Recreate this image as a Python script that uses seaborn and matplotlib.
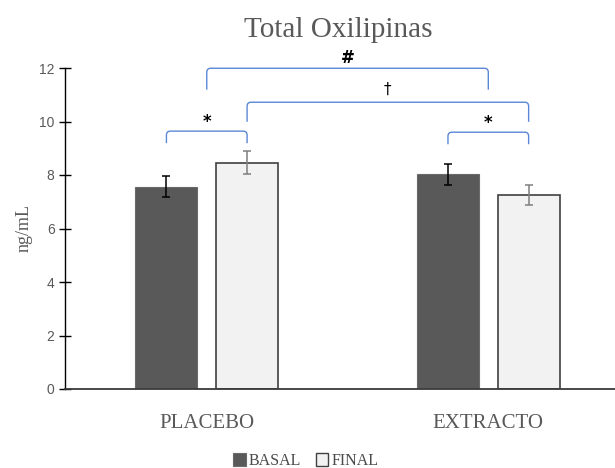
import matplotlib
matplotlib.use("Agg")
import matplotlib.pyplot as plt
import seaborn as sns
import pandas as pd
import numpy as np
from matplotlib.path import Path
from matplotlib.patches import PathPatch, Patch

# ---- data ----
groups = ["PLACEBO", "EXTRACTO"]
periods = ["BASAL", "FINAL"]
basal_vals = [7.56, 8.02]
final_vals = [8.46, 7.25]
basal_err = [0.39, 0.40]
final_err = [0.42, 0.37]
title = "Total Oxilipinas"
ylabel = "ng/mL"
yticks = [0, 2, 4, 6, 8, 10, 12]
# brackets: (bar_a, bar_b, top level, label); bars indexed (group, period)
brackets = [
    (("PLACEBO", "BASAL"), ("PLACEBO", "FINAL"), 9.64, "*"),
    (("EXTRACTO", "BASAL"), ("EXTRACTO", "FINAL"), 9.60, "*"),
    (("PLACEBO", "FINAL"), ("EXTRACTO", "FINAL"), 10.72, "\u2020"),
    (("PLACEBO", None), ("EXTRACTO", None), 11.99, "#"),
]

df = pd.DataFrame({
    "group": groups * 2,
    "period": ["BASAL"] * 2 + ["FINAL"] * 2,
    "value": basal_vals + final_vals,
    "err": basal_err + final_err,
})

sns.set_theme(style="white")
plt.rcParams["font.family"] = ["Liberation Serif", "DejaVu Serif"]

fig = plt.figure(figsize=(6.15, 4.68), dpi=100)
ax = fig.add_axes([65 / 615, 1 - 389 / 468, 1 - 65 / 615, (389 - 68) / 468])

colors = {"BASAL": "#595959", "FINAL": "#f2f2f2"}
sns.barplot(data=df, x="group", y="value", hue="period", order=groups,
            hue_order=periods, palette=colors, width=0.573, gap=0.232,
            ax=ax, legend=False, errorbar=None)

# style bars and collect centers
centers = {}
n = len(groups)
for i, p in enumerate(ax.patches[:2 * n]):
    per = periods[i // n]
    grp = groups[i % n]
    cx = p.get_x() + p.get_width() / 2
    centers[(grp, per)] = cx
    if per == "BASAL":
        p.set_edgecolor("#6a6a6a")
        p.set_linewidth(0.8)
    else:
        p.set_edgecolor("#404040")
        p.set_linewidth(1.2)

for per, ecol in zip(periods, ["#000000", "#7f7f7f"]):
    sub = df[df.period == per].set_index("group").loc[groups]
    xs = [centers[(g, per)] for g in groups]
    ax.errorbar(xs, sub["value"].values, yerr=sub["err"].values, fmt="none",
                ecolor=ecol, elinewidth=1.1, capsize=2.9, capthick=1.1, zorder=5)

for i, g in enumerate(groups):
    centers[(g, None)] = i

ax.set_xlim(-0.5035, 1.45)
ax.set_ylim(0, 12)
ax.set_yticks(yticks)
ax.set_yticklabels([str(t) for t in yticks], family=["Liberation Sans", "DejaVu Sans"],
                   fontsize=10, color="#595959")
ax.tick_params(axis="y", direction="inout", length=8, width=1, color="#000000", pad=3.5, left=True)
ax.tick_params(axis="x", length=0, pad=18, labelsize=15, labelcolor="#595959")
ax.set_xlabel("")
ax.set_ylabel(ylabel, fontsize=13, color="#595959", labelpad=5)
for s in ["top", "right"]:
    ax.spines[s].set_visible(False)
ax.spines["left"].set_color("#000000")
ax.spines["left"].set_linewidth(1)
ax.spines["bottom"].set_color("#3a3a3a")
ax.spines["bottom"].set_linewidth(1.3)

# brackets
bcol = "#5b87d6"
drop = 0.45
rx, ry = 0.014, 0.15
for a, b, top, lab in brackets:
    x0, x1 = centers[a], centers[b]
    if lab == "#":
        d, off = 0.8, 0.05
    elif lab == "\u2020":
        d, off = 0.73, 0.2
    else:
        d, off = drop, 0.02
    verts = [(x0, top - d), (x0, top - ry), (x0, top), (x0 + rx, top),
             (x1 - rx, top), (x1, top), (x1, top - ry), (x1, top - d)]
    codes = [Path.MOVETO, Path.LINETO, Path.CURVE3, Path.CURVE3,
             Path.LINETO, Path.CURVE3, Path.CURVE3, Path.LINETO]
    ax.add_patch(PathPatch(Path(verts, codes), fill=False, edgecolor=bcol,
                           linewidth=1.0, clip_on=False, zorder=6))
    ax.text((x0 + x1) / 2, top + off, lab, ha="center", va="bottom",
            family=["DejaVu Sans"], fontsize=12 if lab != "\u2020" else 11,
            fontweight="bold" if lab in ("*", "#") else "normal",
            color="#000000", clip_on=False)

fig.text(0.55, 1 - 30 / 468, title, ha="center", va="center", fontsize=21, color="#595959")

handles = [Patch(facecolor=colors["BASAL"], edgecolor="#6a6a6a", linewidth=0.8),
           Patch(facecolor=colors["FINAL"], edgecolor="#404040", linewidth=1.0)]
fig.legend(handles, periods, loc="center", bbox_to_anchor=(0.497, 1 - 461 / 468),
           ncol=2, frameon=False, fontsize=11.5, handlelength=0.8, handleheight=0.8,
           handletextpad=0.2, columnspacing=0.9, labelcolor="#4a4a4a")

fig.savefig("out.png", dpi=100)
